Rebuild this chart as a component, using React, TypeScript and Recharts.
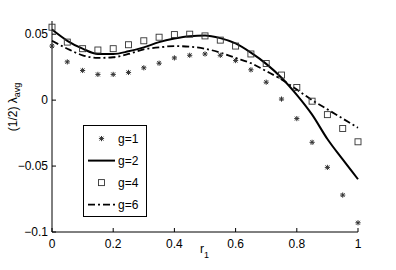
import { ComposedChart, Line, Scatter, XAxis, YAxis } from "recharts";

const R1 = [0, 0.05, 0.1, 0.15, 0.2, 0.25, 0.3, 0.35, 0.4, 0.45, 0.5, 0.55, 0.6, 0.65, 0.7, 0.75, 0.8, 0.85, 0.9, 0.95, 1];
const G1 = [0.041, 0.029, 0.0225, 0.0195, 0.0195, 0.021, 0.0245, 0.028, 0.032, 0.034, 0.035, 0.034, 0.03, 0.023, 0.0136, 0.0008, -0.014, -0.032, -0.051, -0.072, -0.093];
const G2 = [0.0535, 0.045, 0.039, 0.035, 0.035, 0.037, 0.04, 0.044, 0.0467, 0.0485, 0.049, 0.047, 0.043, 0.036, 0.0275, 0.017, 0.004, -0.011, -0.0295, -0.045, -0.06];
const G4 = [0.0553, 0.044, 0.039, 0.038, 0.039, 0.042, 0.045, 0.0477, 0.0497, 0.05, 0.0487, 0.0455, 0.041, 0.035, 0.0278, 0.019, 0.0096, -0.0008, -0.011, -0.0215, -0.0316];
const G6 = [0.045, 0.039, 0.034, 0.032, 0.0325, 0.035, 0.0385, 0.04, 0.041, 0.0405, 0.039, 0.036, 0.032, 0.028, 0.022, 0.0157, 0.008, 0, -0.007, -0.014, -0.021];

const X_TICKS = [0, 0.2, 0.4, 0.6, 0.8, 1];
const Y_TICKS = [-0.1, -0.05, 0, 0.05];

const data = R1.map((r, i) => ({ r, g1: G1[i], g2: G2[i], g4: G4[i], g6: G6[i] }));

const FONT = "'Liberation Sans', Arial, sans-serif";
const DASHDOT = "7 3 2 3";

function Star({ cx, cy }: any) {
  const s = 2.6;
  return (
    <g stroke="#333" strokeWidth={1}>
      <line x1={cx - s} y1={cy} x2={cx + s} y2={cy} />
      <line x1={cx} y1={cy - s} x2={cx} y2={cy + s} />
      <line x1={cx - s * 0.75} y1={cy - s * 0.75} x2={cx + s * 0.75} y2={cy + s * 0.75} />
      <line x1={cx - s * 0.75} y1={cy + s * 0.75} x2={cx + s * 0.75} y2={cy - s * 0.75} />
    </g>
  );
}

function Square({ cx, cy }: any) {
  return <rect x={cx - 3} y={cy - 3} width={6} height={6} fill="none" stroke="#333" strokeWidth={0.9} />;
}

function fmtY(v: number) {
  if (v === 0) return "0";
  return v < 0 ? "\u2212" + String(-v) : String(v);
}

function LegendBox() {
  const rows = [
    { label: "g=1", kind: "star" },
    { label: "g=2", kind: "line" },
    { label: "g=4", kind: "square" },
    { label: "g=6", kind: "dashdot" },
  ];
  return (
    <svg width={64} height={92} style={{ display: "block" }}>
      <rect x={0.5} y={0.5} width={63} height={91} fill="#fff" stroke="#000" strokeWidth={1} />
      {rows.map((row, i) => {
        const y = 13.6 + i * 22;
        return (
          <g key={row.label}>
            {row.kind === "star" && <Star cx={18.5} cy={y} />}
            {row.kind === "square" && <Square cx={18.5} cy={y} />}
            {row.kind === "line" && <line x1={5} y1={y} x2={32} y2={y} stroke="#000" strokeWidth={2} />}
            {row.kind === "dashdot" && (
              <line x1={5} y1={y} x2={32} y2={y} stroke="#000" strokeWidth={1.8} strokeDasharray={DASHDOT} />
            )}
            <text x={35} y={y + 4.5} fontSize={12} fontFamily={FONT} fill="#000">
              {row.label}
            </text>
          </g>
        );
      })}
    </svg>
  );
}

function YLabel() {
  return (
    <text transform="translate(17,107) rotate(-90)" textAnchor="middle" fontSize={12} fontFamily={FONT} fill="#000">
      (1/2) λ
      <tspan fontSize={9} dy={3}>avg</tspan>
    </text>
  );
}

function XLabel() {
  return (
    <text x={200} y={253} fontSize={12} fontFamily={FONT} fill="#000">
      r<tspan fontSize={9} dy={5}>1</tspan>
    </text>
  );
}

export default function App() {
  const tickStyle = { fontSize: 12, fontFamily: FONT, fill: "#000" };
  return (
    <div style={{ position: "absolute", left: 0, top: 0, width: 396, height: 270, background: "#fff" }}>
      <ComposedChart width={396} height={270} data={data} margin={{ top: 21, right: 38, left: 0, bottom: 0 }}>
        <XAxis
          xAxisId="b"
          type="number"
          dataKey="r"
          domain={[0, 1]}
          ticks={X_TICKS}
          tickFormatter={(v: number) => String(v)}
          height={38}
          tickSize={-4}
          tickMargin={11}
          tick={tickStyle}
          stroke="#000"
        />
        <XAxis
          xAxisId="t"
          orientation="top"
          type="number"
          dataKey="r"
          domain={[0, 1]}
          ticks={X_TICKS}
          height={0}
          tickSize={-4}
          tick={false}
          stroke="#000"
        />
        <YAxis
          yAxisId="l"
          type="number"
          domain={[-0.1, 0.06]}
          ticks={Y_TICKS}
          tickFormatter={fmtY}
          width={52}
          tickSize={-4}
          tickMargin={8}
          tick={tickStyle}
          stroke="#000"
        />
        <YAxis
          yAxisId="r"
          orientation="right"
          type="number"
          domain={[-0.1, 0.06]}
          ticks={Y_TICKS}
          width={0}
          tickSize={-4}
          tick={false}
          stroke="#000"
        />
        <Line
          xAxisId="b"
          yAxisId="l"
          dataKey="g2"
          type="monotone"
          stroke="#000"
          strokeWidth={2}
          dot={false}
          isAnimationActive={false}
        />
        <Line
          xAxisId="b"
          yAxisId="l"
          dataKey="g6"
          type="monotone"
          stroke="#000"
          strokeWidth={1.8}
          strokeDasharray={DASHDOT}
          dot={false}
          isAnimationActive={false}
        />
        <Scatter xAxisId="b" yAxisId="l" dataKey="g1" shape={Star} isAnimationActive={false} />
        <Scatter xAxisId="b" yAxisId="l" dataKey="g4" shape={Square} isAnimationActive={false} />
        <YLabel />
        <XLabel />
      </ComposedChart>
      <div style={{ position: "absolute", left: 83, top: 125 }}>
        <LegendBox />
      </div>
    </div>
  );
}
